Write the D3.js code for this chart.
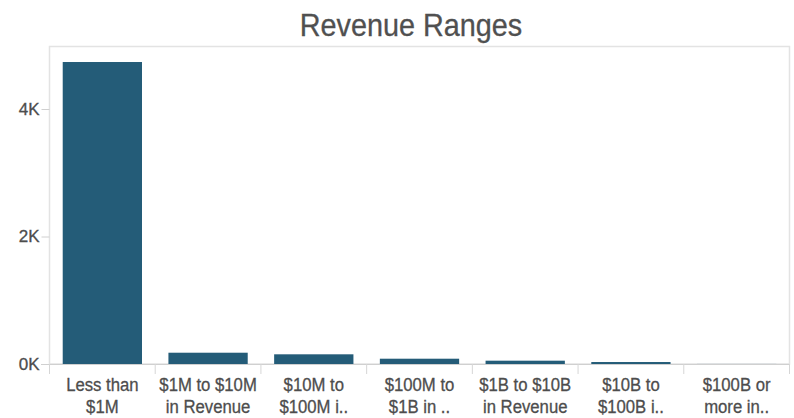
<!DOCTYPE html>
<html><head><meta charset="utf-8">
<script src="https://cdn.jsdelivr.net/npm/d3@7"></script>
<style>body{margin:0;background:#fff;} text{font-family:"Liberation Sans",Arial,sans-serif;}</style>
</head><body>
<svg id="c" width="794" height="418"></svg>
<script>
const categories = [
  ["Less than", "$1M"],
  ["$1M to $10M", "in Revenue"],
  ["$10M to", "$100M i.."],
  ["$100M to", "$1B in .."],
  ["$1B to $10B", "in Revenue"],
  ["$10B to", "$100B i.."],
  ["$100B or", "more in.."]
];
const values = [4737, 177, 152, 83, 52, 31, 1];
const yTicks = [0, 2000, 4000];
const yTickLabels = ["0K", "2K", "4K"];
const title = "Revenue Ranges";

const svg = d3.select("#c");
const L = 49.5, R = 789.5, T = 46.5, B = 364;
const x = d3.scaleBand().domain(d3.range(categories.length)).range([L, R]).paddingInner(0.25).paddingOuter(0.125);
const y = d3.scaleLinear().domain([0, 4000]).range([B, 109]);

// frame
svg.append("rect").attr("x", L).attr("y", T).attr("width", R - L).attr("height", B - T)
  .attr("fill", "none").attr("stroke", "#e3e3e3").attr("stroke-width", 1.5);

// bars
svg.append("g").selectAll("rect").data(values).join("rect")
  .attr("x", (d, i) => x(i)).attr("width", x.bandwidth())
  .attr("y", d => y(d)).attr("height", d => B - y(d))
  .attr("fill", "#245c78");

// y axis
const yAxis = d3.axisLeft(y).tickValues(yTicks).tickFormat((d, i) => yTickLabels[i]).tickSize(8).tickPadding(2);
const ya = svg.append("g").attr("transform", `translate(${L},0)`).call(yAxis);
ya.select(".domain").remove();
ya.selectAll("line").attr("stroke", "#d0d0d0");
ya.selectAll("text").attr("fill", "#4d4d4d").attr("stroke", "#4d4d4d").attr("stroke-width", 0.3)
  .style("font-size", "17px")
  .style("font-family", "'Liberation Sans', Arial, sans-serif");

// baseline
svg.append("line").attr("x1", 41).attr("x2", R).attr("y1", B + 0.5).attr("y2", B + 0.5).attr("stroke", "#d0d0d0").attr("stroke-width", 1.2);

// category separators
const step = x.step();
const seps = d3.range(categories.length + 1).map(i => L + i * step);
svg.append("g").selectAll("line").data(seps).join("line")
  .attr("x1", d => d).attr("x2", d => d).attr("y1", B).attr("y2", 374)
  .attr("stroke", "#d6d6d6");

// category labels
const cg = svg.append("g");
categories.forEach((c, i) => {
  const cx = x(i) + x.bandwidth() / 2;
  const g = cg.append("g").attr("transform", `translate(${cx},0) scale(0.88,1)`);
  const t = g.append("text").attr("text-anchor", "middle").attr("fill", "#4d4d4d")
    .attr("stroke", "#4d4d4d").attr("stroke-width", 0.3).style("font-size", "19px");
  t.append("tspan").attr("x", 0).attr("y", 391.5).text(c[0]);
  t.append("tspan").attr("x", 0).attr("y", 413).text(c[1]);
});

// title
svg.append("g").attr("transform", "translate(411,0) scale(0.9,1)")
  .append("text").attr("x", 0).attr("y", 36).attr("text-anchor", "middle")
  .attr("fill", "#505050").attr("stroke", "#505050").attr("stroke-width", 0.3)
  .style("font-size", "32px").text(title);
</script>
</body></html>
